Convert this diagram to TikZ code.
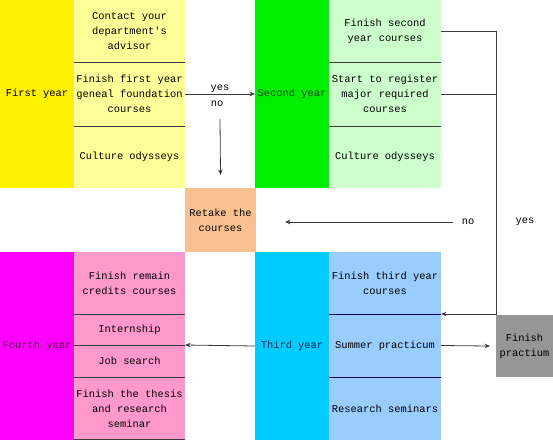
\documentclass[tikz,border=0pt]{standalone}
\usepackage{fontspec}
\newfontfamily\cellfont{Liberation Mono}
\usetikzlibrary{arrows.meta,calc}
\definecolor{cYellow}{HTML}{FFF000}
\definecolor{cLYellow}{HTML}{FFFF99}
\definecolor{cGreen}{HTML}{00EE00}
\definecolor{cLGreen}{HTML}{CCFFCC}
\definecolor{cOrange}{HTML}{F9C090}
\definecolor{cMagenta}{HTML}{FF00FF}
\definecolor{cPink}{HTML}{FF99CC}
\definecolor{cCyan}{HTML}{00CCFF}
\definecolor{cLBlue}{HTML}{99CCFF}
\definecolor{cGray}{HTML}{969696}
\definecolor{cLine}{HTML}{3A3A3A}
\definecolor{tGreen}{HTML}{1A4A1A}
\definecolor{tPurple}{HTML}{5A1050}
\definecolor{tBlue}{HTML}{102A50}
\begin{document}
\begin{tikzpicture}[x=1pt,y=-1pt,
  cell/.style={draw=none,inner sep=0pt,outer sep=0pt,anchor=north west,align=center,
    font=\cellfont\fontsize{10.4}{15}\selectfont},
  lbl/.style={inner sep=0pt,font=\cellfont\fontsize{10.4}{15}\selectfont},
  divider/.style={draw=cLine,line width=0.8pt},
  conn/.style={draw=cLine,line width=0.8pt},
  tip/.style={-{Stealth[length=5.5pt,width=4.5pt]}}]
\useasboundingbox (0,0) rectangle (553,440);
% First year
\node[cell,fill=cYellow,minimum width=74pt,minimum height=188pt] (fy) at (0,0) {First year};
\node[cell,fill=cLYellow,minimum width=111pt,minimum height=62pt] (fy1) at (74,0) {Contact your\\department's\\advisor};
\node[cell,fill=cLYellow,minimum width=111pt,minimum height=64pt] (fy2) at (74,62) {Finish first year\\geneal foundation\\courses};
\node[cell,fill=cLYellow,minimum width=111pt,minimum height=62pt] (fy3) at (74,126) {Culture odysseys};
\draw[divider] (fy1.south west) -- (fy1.south east);
\draw[divider] (fy2.south west) -- (fy2.south east);
% Second year
\node[cell,fill=cGreen,minimum width=74pt,minimum height=188pt,text=tGreen] (sy) at (255,0) {Second year};
\node[cell,fill=cLGreen,minimum width=112pt,minimum height=62pt] (sy1) at (329,0) {Finish second\\year courses};
\node[cell,fill=cLGreen,minimum width=112pt,minimum height=64pt] (sy2) at (329,62) {Start to register\\major required\\courses};
\node[cell,fill=cLGreen,minimum width=112pt,minimum height=62pt] (sy3) at (329,126) {Culture odysseys};
\draw[divider] (sy1.south west) -- (sy1.south east);
\draw[divider] (sy2.south west) -- (sy2.south east);
% Retake
\node[cell,fill=cOrange,minimum width=71pt,minimum height=64pt] (rt) at (185,188) {Retake the\\courses};
% Fourth year
\node[cell,fill=cMagenta,minimum width=74pt,minimum height=188pt,text=tPurple] (fo) at (0,252) {Fourth year};
\node[cell,fill=cPink,minimum width=111pt,minimum height=62pt] (fo1) at (74,252) {Finish remain\\credits courses};
\node[cell,fill=cPink,minimum width=111pt,minimum height=31pt] (fo2) at (74,314) {Internship};
\node[cell,fill=cPink,minimum width=111pt,minimum height=32pt] (fo3) at (74,345) {Job search};
\node[cell,fill=cPink,minimum width=111pt,minimum height=63pt] (fo4) at (74,377) {Finish the thesis\\and research\\seminar};
\draw[divider] (fo1.south west) -- (fo1.south east);
\draw[divider] (fo2.south west) -- (fo2.south east);
\draw[divider] (fo3.south west) -- (fo3.south east);
\draw[divider] ($(fo4.south west)+(0,-1)$) -- ($(fo4.south east)+(0,-1)$);
% Third year
\node[cell,fill=cCyan,minimum width=74pt,minimum height=188pt,text=tBlue] (ty) at (255,252) {Third year};
\node[cell,fill=cLBlue,minimum width=112pt,minimum height=62pt] (ty1) at (329,252) {Finish third year\\courses};
\node[cell,fill=cLBlue,minimum width=112pt,minimum height=63pt] (ty2) at (329,314) {Summer practicum};
\node[cell,fill=cLBlue,minimum width=112pt,minimum height=63pt] (ty3) at (329,377) {Research seminars};
\draw[divider,draw=black!60!blue] (ty1.south west) -- (ty1.south east);
\draw[divider,draw=black!60!blue] (ty2.south west) -- (ty2.south east);
% Finish practium
\node[cell,fill=cGray,minimum width=57pt,minimum height=62pt] (fp) at (496,315) {Finish\\practium};
% Labels
\node[lbl] (yes1) at (220,89) {yes};
\node[lbl] (no1) at (217,104) {no};
\node[lbl] (no2) at (468,222) {no};
\node[lbl] (yes2) at (525,222) {yes};
% Connectors
\draw[conn,tip] (fy2.east) -- (sy.west |- fy2.east);
\draw[conn,tip] (220,119) -- ($(rt.north)+(0,-13)$);
\draw[conn] (sy1.east) -- (sy1.east -| fp.west) coordinate (vtop);
\draw[conn] (sy2.east) -- (sy2.east -| fp.west);
\draw[conn,tip] (vtop) -- (fp.north west |- ty1.south east) -- (ty1.south east);
\draw[conn,tip] ($(no2.west)+(-9,0)$) -- ($(rt.east)+(29,2)$);
\draw[conn,tip] (ty.west) -- (fo2.south east);
\draw[conn,tip] (ty2.east) -- ($(fp.west)+(-6,0)$);
\end{tikzpicture}
\end{document}
